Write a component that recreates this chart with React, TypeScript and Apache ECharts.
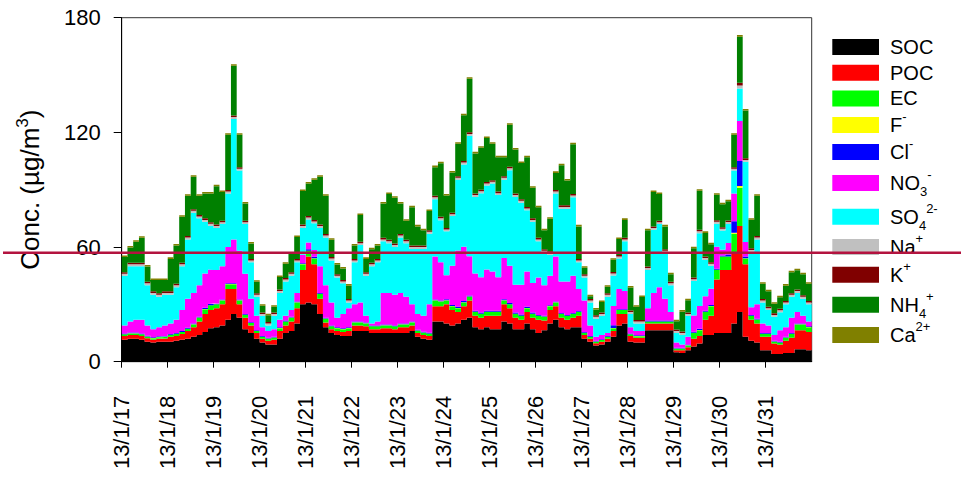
import React, { useEffect, useRef } from 'react';
import * as echarts from 'echarts';

// Day tick labels (one per day, 3-hour slots, 8 slots per day)
const DAY_LABELS = [
  '13/1/17', '13/1/18', '13/1/19', '13/1/20', '13/1/21', '13/1/22', '13/1/23', '13/1/24',
  '13/1/25', '13/1/26', '13/1/27', '13/1/28', '13/1/29', '13/1/30', '13/1/31',
];
const SLOTS_PER_DAY = 8;
const REF_LINE = 57;

const SOC = [
  11.5, 12, 12, 11.5, 10.5, 10, 10.5, 10.5,
  10.5, 11, 11.5, 12, 13, 14, 15.5, 17.5,
  18, 19, 22, 25, 23, 17, 15, 12,
  10, 9, 9, 12, 15, 16, 20, 30,
  31, 30, 25, 18, 15, 14, 13.5, 13.5,
  16, 16, 16, 15, 15, 15, 15, 15,
  15, 15, 16, 13, 12, 11.5, 21, 21,
  20, 19, 20, 22, 23, 18, 17, 18,
  17, 17, 21, 20, 17, 17, 20, 17,
  15, 16.5, 20, 22, 18, 17, 18, 18,
  12, 10.5, 8.5, 9, 10.5, 13, 19, 20,
  10.5, 10, 10, 16.5, 16.5, 16.5, 16.5, 16.5,
  5, 4.5, 6, 8, 9.5, 14, 14, 15,
  15, 15, 20, 26, 13, 11, 10, 6,
  6, 4, 4, 4.5, 4.5, 6.5, 6.5, 6,
];

const POC = [
  2, 2, 2, 2, 1.8, 1.5, 1.5, 1.7,
  2.5, 2.5, 3, 4, 5, 7, 9.5, 9.5,
  10, 11, 16, 13, 7, 6, 4, 3,
  2, 2, 2.5, 4, 4, 5, 8, 18,
  24, 21, 8, 2.5, 2, 2, 2, 2.5,
  3, 3, 2.5, 2, 2, 2.5, 2.5, 2,
  3, 3, 3, 2, 2, 2, 8, 8,
  10, 8, 6, 7, 9, 6, 6, 6,
  7, 7, 9, 8, 6, 5, 6, 6,
  7, 5, 7, 7, 5, 5, 5, 6,
  2, 1.5, 1.2, 1.5, 1.5, 3, 6, 5,
  3, 2.5, 2.5, 3.5, 3.5, 3.5, 3.5, 3.5,
  1, 1.5, 1.5, 4, 4, 8, 10, 28,
  33, 33, 37, 45, 38, 11, 10, 7,
  7, 5.5, 5, 6.5, 8, 10, 10, 9.5,
];

const EC = [
  0.8, 0.8, 0.8, 0.8, 0.8, 0.8, 0.8, 0.8,
  1, 1, 1, 1.2, 1.5, 2, 2.5, 2.5,
  2, 2, 2.5, 2.5, 2, 1.5, 1.2, 1,
  1, 1, 1, 1.5, 2, 2, 3, 3,
  3, 3, 2.5, 2, 1.5, 1.5, 1.5, 1.5,
  1.5, 1.5, 1.5, 1.5, 1.5, 1.5, 1.5, 1.5,
  1.5, 1.5, 1.5, 1.2, 1.2, 1.2, 3, 2.5,
  2, 2, 2, 2, 2, 2, 2, 2,
  2, 2, 2, 2, 2, 2, 2, 2,
  2, 2, 2, 2, 2, 2, 2, 2,
  1, 1, 0.8, 0.8, 1, 1.5, 2, 2,
  0.8, 0.8, 0.8, 1, 1, 1, 1, 1,
  0.8, 0.8, 1, 3, 3, 4, 5, 5,
  7, 7, 10, 20, 3, 2, 2, 1.5,
  1.5, 1, 1, 1.5, 2, 3, 3, 2.5,
];

const F = [
  0.1, 0.1, 0.1, 0.1, 0.1, 0.1, 0.1, 0.1,
  0.1, 0.1, 0.1, 0.1, 0.1, 0.1, 0.1, 0.1,
  0.1, 0.1, 0.1, 0.1, 0.1, 0.1, 0.1, 0.1,
  0.1, 0.1, 0.1, 0.1, 0.1, 0.1, 0.1, 0.1,
  0.1, 0.1, 0.1, 0.1, 0.1, 0.1, 0.1, 0.1,
  0.1, 0.1, 0.1, 0.1, 0.1, 0.1, 0.1, 0.1,
  0.1, 0.1, 0.1, 0.1, 0.1, 0.1, 0.1, 0.1,
  0.1, 0.1, 0.1, 0.1, 0.1, 0.1, 0.1, 0.1,
  0.1, 0.1, 0.1, 0.1, 0.1, 0.1, 0.1, 0.1,
  0.1, 0.1, 0.1, 0.1, 0.1, 0.1, 0.1, 0.1,
  0.1, 0.1, 0.1, 0.1, 0.1, 0.1, 0.1, 0.1,
  0.1, 0.1, 0.1, 0.1, 0.1, 0.1, 0.1, 0.1,
  0.1, 0.1, 0.1, 0.1, 0.1, 0.1, 0.1, 0.1,
  0.1, 0.1, 0.5, 1, 0.1, 0.1, 0.1, 0.1,
  0.1, 0.1, 0.1, 0.1, 0.1, 0.1, 0.1, 0.1,
];

const CL = [
  0.4, 0.4, 0.4, 0.4, 0.4, 0.4, 0.4, 0.4,
  0.4, 0.4, 0.4, 0.4, 0.4, 0.4, 0.6, 0.6,
  0.4, 0.4, 0.4, 0.4, 0.4, 0.4, 0.4, 0.4,
  0.4, 0.4, 0.4, 0.4, 0.4, 0.4, 0.4, 0.4,
  0.8, 0.8, 0.4, 0.4, 0.4, 0.4, 0.4, 0.4,
  0.4, 0.4, 0.4, 0.4, 0.4, 0.4, 0.4, 0.4,
  0.4, 0.4, 0.4, 0.4, 0.4, 0.4, 0.4, 0.4,
  0.6, 0.6, 0.6, 0.6, 0.6, 0.6, 0.6, 0.6,
  0.6, 0.6, 0.6, 0.6, 0.6, 0.6, 0.6, 0.6,
  0.4, 0.4, 0.4, 0.4, 0.4, 0.4, 0.4, 0.4,
  0.4, 0.4, 0.4, 0.4, 0.4, 1.5, 0.4, 0.4,
  0.4, 0.4, 0.4, 0.4, 0.4, 0.4, 0.4, 0.4,
  0.4, 0.4, 0.4, 0.6, 0.6, 0.6, 0.6, 0.6,
  0.5, 1, 6, 13, 1, 0.4, 0.4, 0.4,
  0.4, 0.4, 0.4, 0.4, 0.4, 0.4, 0.4, 0.4,
];

const NO3 = [
  4.2, 5.7, 6.7, 7.2, 5.4, 4.2, 4.7, 5.5,
  5.5, 7, 11, 15.3, 16, 16.5, 18, 18,
  17.5, 17.5, 19, 23, 25.5, 21, 12.3, 7.5,
  4.5, 3.5, 4, 4, 2.5, 3.5, 4.5, 4.5,
  3.5, 3.5, 14, 17, 12, 5, 7.5, 10,
  9, 10, 3.5, 1, 2, 16.5, 16.5, 16,
  16, 14, 9, 8.3, 8.3, 14.8, 22.5, 20,
  12.5, 20.5, 29.5, 28.5, 20.5, 19.5, 18.5, 21.5,
  20.5, 17.5, 21.5, 19.5, 14.5, 15.5, 18.5, 15.5,
  19.5, 16, 15.5, 23.5, 16.5, 17.5, 19.5, 11.5,
  16.5, 5.5, 2, 2.2, 1.5, 10, 10.5, 9.5,
  3.2, 2.2, 2.2, 6.5, 14.5, 17.5, 11.5, 4.5,
  2.7, 1.7, 4, 8.5, 12, 7.5, 8.5, 11.5,
  3, 6, 14.5, 21, 7.5, 4, 7.5, 5,
  4, 3, 6, 5, 8, 6, 4, 2.5,
];

const SO4 = [
  26, 29, 28, 28, 21, 18, 16, 16,
  15, 17, 23, 31, 42, 35, 27, 23,
  22, 22, 28, 63, 42, 26, 19, 10,
  6, 3, 7, 14, 18, 18, 16, 14,
  12, 14, 20, 25, 22, 21, 16, 3,
  22, 30, 21, 30, 31, 27, 26, 25,
  29, 28, 29, 34, 35, 37, 30, 22,
  23, 26, 37, 43, 63, 40, 44, 44,
  46, 43, 41, 50, 46, 43, 32, 32,
  19, 17, 11, 33, 38, 38, 41, 14,
  12, 12, 9.5, 10, 19, 16, 16, 26,
  7, 4, 4, 20, 33, 33, 24, 14,
  5, 5, 11, 18, 38, 19, 12, 12,
  10, 10, 12, 17, 42, 29, 34, 11,
  8, 9.5, 9.4, 12, 11, 10, 9, 9,
];

const NA = [
  1, 1, 1, 1, 1, 1, 1, 1,
  1, 1, 1, 1, 1, 1, 1, 1,
  1, 1, 1, 1, 1, 1, 1, 1,
  1, 1, 1, 1, 1, 1, 1, 1,
  1, 1, 1, 1, 1, 1, 1, 1,
  1, 1, 1, 1, 1, 1, 1, 1,
  1, 1, 1, 1, 1, 1, 1, 1,
  1, 1, 1, 1, 1, 1, 1, 1,
  1, 1, 1, 1, 1, 1, 1, 1,
  1, 1, 1, 1, 1, 1, 1, 1,
  1, 1, 1, 1, 1, 1, 1, 1,
  1, 1, 1, 1, 1, 1, 1, 1,
  1, 1, 1, 1, 1, 1, 1, 1,
  1, 1, 1, 1.5, 1, 1, 1, 1,
  1, 1, 1, 1, 1, 1, 1, 1,
];

const K = [
  0.8, 0.8, 0.8, 0.8, 0.8, 0.8, 0.8, 0.8,
  0.8, 0.8, 0.8, 0.8, 0.8, 0.8, 0.8, 0.8,
  0.8, 0.8, 0.8, 0.8, 0.8, 0.8, 0.8, 0.8,
  0.8, 0.8, 0.8, 0.8, 0.8, 0.8, 0.8, 0.8,
  0.8, 0.8, 0.8, 0.8, 0.8, 0.8, 0.8, 0.8,
  0.8, 0.8, 0.8, 0.8, 0.8, 0.8, 0.8, 0.8,
  0.8, 0.8, 0.8, 0.8, 0.8, 0.8, 0.8, 0.8,
  0.8, 0.8, 0.8, 0.8, 0.8, 0.8, 0.8, 0.8,
  0.8, 0.8, 0.8, 0.8, 0.8, 0.8, 0.8, 0.8,
  0.8, 0.8, 0.8, 0.8, 0.8, 0.8, 0.8, 0.8,
  0.8, 0.8, 0.8, 0.8, 0.8, 0.8, 0.8, 0.8,
  0.8, 0.8, 0.8, 0.8, 0.8, 0.8, 0.8, 0.8,
  0.8, 0.8, 0.8, 0.8, 0.8, 0.8, 0.8, 0.8,
  0.8, 0.8, 0.8, 1.5, 0.8, 0.8, 0.8, 0.8,
  0.8, 0.8, 0.8, 0.8, 0.8, 0.8, 0.8, 0.8,
];

const NH4 = [
  8, 8, 11, 13, 8, 6, 7, 6,
  17, 20, 24, 21, 17, 10, 13, 15,
  20, 15, 29, 26, 17, 9, 8, 6,
  3.5, 3.5, 3, 6.5, 7.5, 9.5, 11.5, 17.5,
  17, 21, 25, 20, 9, 5, 6, 7,
  7, 14, 7, 7, 7, 18, 24, 24,
  16, 10, 20, 10, 8, 10, 15, 28,
  17, 21, 17, 24, 28, 21, 22, 23,
  19, 18, 10, 22, 23, 19, 26, 16,
  16, 10, 17, 9, 21, 13, 26, 17,
  3.4, 1.4, 3, 5.4, 3.4, 6.4, 8.4, 9.4,
  12, 7, 12, 19, 18, 14, 12, 4,
  4.4, 10.4, 6.4, 15.4, 20.4, 12.4, 9.4, 13.4,
  12, 10, 17, 24, 25, 15, 21, 8,
  8, 5, 6, 8, 11, 10, 11, 9,
];

const CA = [
  0.8, 0.8, 0.8, 0.8, 0.8, 0.8, 0.8, 0.8,
  0.8, 0.8, 0.8, 0.8, 0.8, 0.8, 0.8, 0.8,
  0.8, 0.8, 0.8, 0.8, 0.8, 0.8, 0.8, 0.8,
  0.8, 0.8, 0.8, 0.8, 0.8, 0.8, 0.8, 0.8,
  0.8, 0.8, 0.8, 0.8, 0.8, 0.8, 0.8, 0.8,
  0.8, 0.8, 0.8, 0.8, 0.8, 0.8, 0.8, 0.8,
  0.8, 0.8, 0.8, 0.8, 0.8, 0.8, 0.8, 0.8,
  0.8, 0.8, 0.8, 0.8, 0.8, 0.8, 0.8, 0.8,
  0.8, 0.8, 0.8, 0.8, 0.8, 0.8, 0.8, 0.8,
  0.8, 0.8, 0.8, 0.8, 0.8, 0.8, 0.8, 0.8,
  0.8, 0.8, 0.8, 0.8, 0.8, 0.8, 0.8, 0.8,
  0.8, 0.8, 0.8, 0.8, 0.8, 0.8, 0.8, 0.8,
  0.8, 0.8, 0.8, 0.8, 0.8, 0.8, 0.8, 0.8,
  0.8, 0.8, 0.8, 1, 0.8, 0.8, 0.8, 0.8,
  0.8, 0.8, 0.8, 0.8, 0.8, 0.8, 0.8, 0.8,
];

const SPECIES = [
  { name: 'SOC', label: 'SOC', color: '#000000', data: SOC },
  { name: 'POC', label: 'POC', color: '#FF0000', data: POC },
  { name: 'EC', label: 'EC', color: '#00FF00', data: EC },
  { name: 'F-', label: 'F{sup|-}', color: '#FFFF00', data: F },
  { name: 'Cl-', label: 'Cl{sup|-}', color: '#0000FF', data: CL },
  { name: 'NO3-', label: 'NO{sub|3}{sup|-}', color: '#FF00FF', data: NO3 },
  { name: 'SO42-', label: 'SO{sub|4}{sup|2-}', color: '#00FFFF', data: SO4 },
  { name: 'Na+', label: 'Na{sup|+}', color: '#C0C0C0', data: NA },
  { name: 'K+', label: 'K{sup|+}', color: '#800000', data: K },
  { name: 'NH4+', label: 'NH{sub|4}{sup|+}', color: '#008000', data: NH4 },
  { name: 'Ca2+', label: 'Ca{sup|2+}', color: '#808000', data: CA },
];

// legend layout (pixel rows of the legend block)
const LEGEND_ROW_Y = [47, 72.7, 98.4, 125, 152, 183, 216.7, 247, 274.7, 304.7, 335];

const FONT = "'Liberation Sans', Arial, Helvetica, sans-serif";

export default function App() {
  const ref = useRef<HTMLDivElement>(null);

  useEffect(() => {
    const el = ref.current;
    if (!el) return;
    const chart = echarts.init(el, null, { renderer: 'svg' });
    const n = SOC.length;
    const cats = Array.from({ length: n + 1 }, (_, i) => String(i));
    const isDayStart = (i: number) => i % SLOTS_PER_DAY === 0 && i < n;

    const series = SPECIES.map((s) => ({
      name: s.name,
      type: 'line',
      stack: 'total',
      step: 'end',
      symbol: 'none',
      showSymbol: false,
      silent: true,
      lineStyle: { width: 0, opacity: 0 },
      areaStyle: { color: s.color, opacity: 1 },
      itemStyle: { color: s.color },
      emphasis: { disabled: true },
      data: [...s.data, s.data[s.data.length - 1]],
    }));

    chart.setOption({
      animation: false,
      textStyle: { fontFamily: FONT },
      grid: {
        left: 121.7,
        right: 149.3,
        top: 17.7,
        bottom: 117.3,
        show: true,
        borderColor: '#333',
        borderWidth: 1,
        backgroundColor: 'transparent',
      },
      xAxis: {
        type: 'category',
        data: cats,
        boundaryGap: false,
        axisLine: { show: true, lineStyle: { color: '#000', width: 1 } },
        axisTick: {
          show: true,
          length: 6,
          interval: (i: number) => isDayStart(i),
          lineStyle: { color: '#000', width: 1 },
        },
        axisLabel: {
          show: true,
          interval: (i: number) => isDayStart(i),
          rotate: 90,
          margin: 34,
          fontSize: 22,
          color: '#000',
          fontFamily: FONT,
          formatter: (_v: string, i: number) => DAY_LABELS[Math.floor(i / SLOTS_PER_DAY)] ?? '',
        },
        splitLine: { show: false },
      },
      yAxis: {
        type: 'value',
        min: 0,
        max: 180,
        interval: 60,
        name: 'Conc. (µg/m{sup|3})',
        nameLocation: 'middle',
        nameRotate: 90,
        nameGap: 76,
        nameTextStyle: {
          fontSize: 26,
          color: '#000',
          fontFamily: FONT,
          lineHeight: 32,
          rich: {
            sup: { fontSize: 17, lineHeight: 17, verticalAlign: 'top', color: '#000', fontFamily: FONT },
          },
        },
        axisLine: { show: true, lineStyle: { color: '#000', width: 1 } },
        axisTick: { show: true, length: 8, lineStyle: { color: '#000', width: 1 } },
        axisLabel: { fontSize: 22, color: '#000', margin: 21, fontFamily: FONT },
        splitLine: { show: false },
      },
      series,
    });

    const yRef = chart.convertToPixel({ yAxisIndex: 0 }, REF_LINE) as number;
    const legendEls: any[] = [];
    SPECIES.forEach((s, i) => {
      const cy = LEGEND_ROW_Y[i];
      legendEls.push({
        type: 'rect',
        shape: { x: 832.3, y: cy - 8, width: 46.7, height: 16 },
        style: { fill: s.color },
        silent: true,
      });
      legendEls.push({
        type: 'text',
        x: 890,
        y: cy,
        silent: true,
        style: {
          text: s.label,
          fontSize: 20,
          fontFamily: FONT,
          fill: '#000',
          verticalAlign: 'middle',
          align: 'left',
          lineHeight: 30,
          rich: {
            sup: { fontSize: 13, lineHeight: 13, verticalAlign: 'top', fill: '#000', fontFamily: FONT },
            sub: { fontSize: 13, lineHeight: 21, verticalAlign: 'bottom', fill: '#000', fontFamily: FONT },
          },
        },
      });
    });
    legendEls.push({
      type: 'line',
      shape: { x1: 3, y1: yRef, x2: 961, y2: yRef },
      style: { stroke: '#B3133F', lineWidth: 2.5 },
      z: 100,
      silent: true,
    });

    chart.setOption({ graphic: legendEls });

    return () => {
      chart.dispose();
    };
  }, []);

  return (
    <div
      ref={ref}
      style={{ position: 'absolute', left: 0, top: 0, width: 961, height: 479, background: '#fff' }}
    />
  );
}
